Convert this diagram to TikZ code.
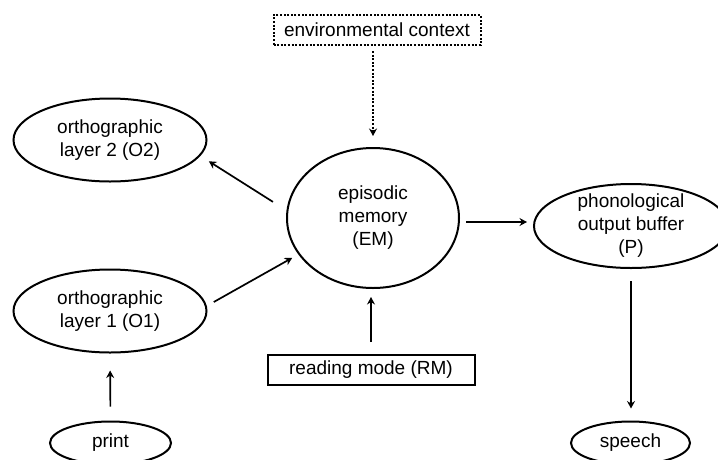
\documentclass[tikz,border=0pt]{standalone}
\usepackage{fontspec}
\setmainfont{Liberation Sans}
\usetikzlibrary{shapes.geometric,arrows.meta}

\begin{document}
\begin{tikzpicture}[x=1pt,y=-1pt,
  font=\fontsize{19}{23}\selectfont,
  blob/.style={draw, ellipse, line width=2pt, inner sep=0pt},
  lbl/.style={align=center, inner sep=0pt},
  box/.style={draw, rectangle, line width=2pt, minimum width=207pt, minimum height=30pt, inner sep=0pt},
  dotline/.style={dash pattern=on 2pt off 1.6pt},
  arr/.style={line width=1.7pt, -{Stealth[length=7.5pt,width=8pt,inset=2.5pt]}}
]
\useasboundingbox (0,0) rectangle (718,459);

% processing stages
\node[box, dotline] (env) at (377,30) {environmental context};
\node[blob, minimum width=172pt, minimum height=140pt,
      label={[lbl]center:episodic\\memory\\(EM)}] (EM) at (373,218) {};
\node[blob, minimum width=193pt, minimum height=83pt,
      label={[lbl]center:orthographic\\layer 2 (O2)}] (O2) at (110,140) {};
\node[blob, minimum width=193pt, minimum height=83pt,
      label={[lbl]center:orthographic\\layer 1 (O1)}] (O1) at (110,311) {};
\node[blob, minimum width=194pt, minimum height=84pt,
      label={[lbl]center:phonological\\output buffer\\(P)}] (P) at (631,226) {};
\node[blob, minimum width=121pt, minimum height=43pt,
      label={[lbl]center:print}] (print) at (110.5,443) {};
\node[blob, minimum width=119pt, minimum height=43pt,
      label={[lbl]center:speech}] (speech) at (630.5,443) {};
\node[box] (RM) at (371,370) {reading mode (RM)};

% connections
\draw[arr, dotline, shorten <=5pt, shorten >=11pt] (env.south -| EM.north) -- (EM.north);
\draw[arr, shorten <=16pt, shorten >=10pt] (EM.175.6) -- (O2.-10.5);
\draw[arr, shorten <=8pt, shorten >=7pt] (O1.3.7) -- (EM.206);
\draw[arr, shorten <=6pt, shorten >=6pt] ([yshift=-4pt]EM.east) -- ([yshift=-4pt]EM.east -| P.west);
\draw[arr, shorten <=12pt, shorten >=8pt] (RM.north) -- (RM.north |- EM.south);
\draw[arr, shorten <=14pt, shorten >=17pt] (print.north) -- (O1.south);
\draw[arr, shorten <=12pt, shorten >=12pt] (P.south) -- (P.south |- speech.north);
\end{tikzpicture}
\end{document}
